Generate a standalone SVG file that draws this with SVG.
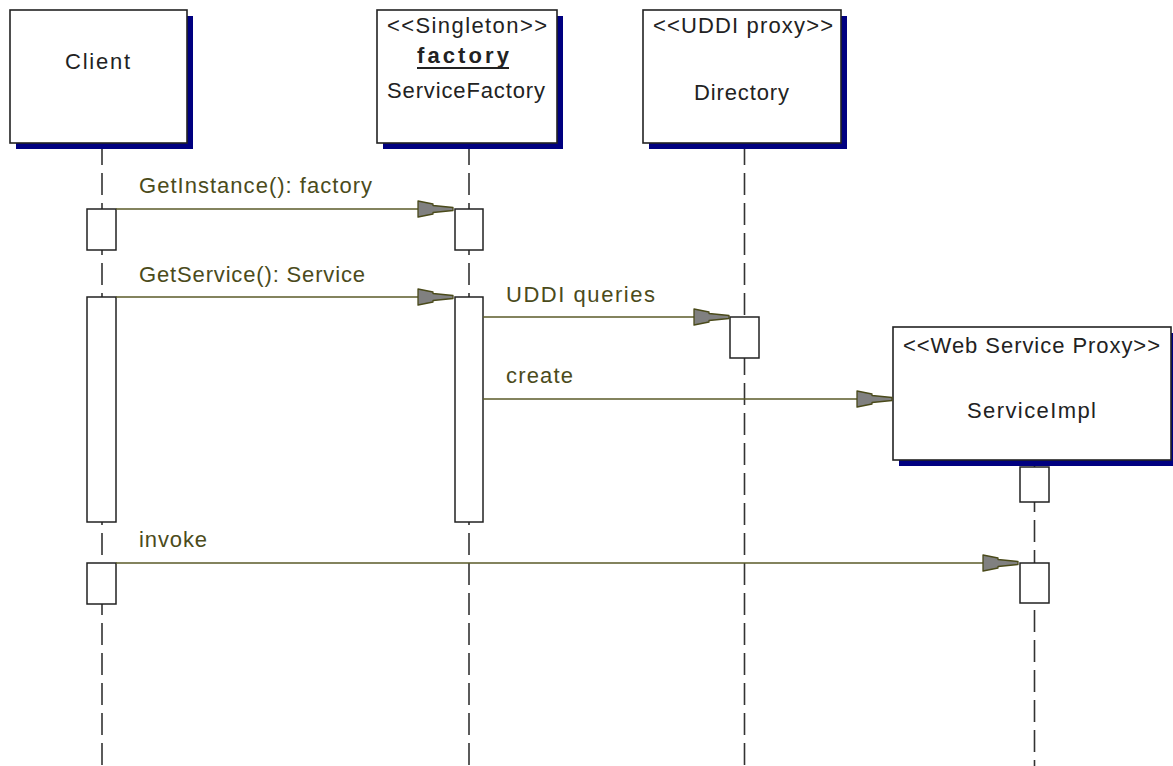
<svg xmlns="http://www.w3.org/2000/svg" width="1173" height="766" viewBox="0 0 1173 766">
<style>
.shadow{fill:#000080}
.box{fill:#ffffff;stroke:#222222;stroke-width:1.6}
.act{fill:#ffffff;stroke:#222222;stroke-width:1.5}
.life{stroke:#333333;stroke-width:1.6;stroke-dasharray:22 8;fill:none}
.nt{font-family:"Liberation Sans",Arial,sans-serif;font-size:22px;fill:#222222}
.mt{font-family:"Liberation Sans",Arial,sans-serif;font-size:22px;fill:#4b4b1b}
.msg{stroke:#5a5a28;stroke-width:1.6;fill:none;marker-end:url(#arr)}
</style>
<defs>
<marker id="arr" viewBox="-37 -10 39 20" refX="0" refY="0" markerWidth="39" markerHeight="20" markerUnits="userSpaceOnUse" orient="auto">
<path d="M-35,-8 L-20,-5 L-20,-3.5 L0,-1.5 L0,1.5 L-20,3.5 L-20,5 L-35,8 Z" fill="#808080" stroke="#4a4a1a" stroke-width="1.3" stroke-linejoin="round"/>
</marker>
</defs>
<rect width="1173" height="766" fill="#ffffff"/>

<g id="client">
<line class="life" x1="102" y1="143" x2="102" y2="766"/>
<rect class="shadow" x="16" y="16" width="177" height="133"/>
<rect class="box" x="10" y="10" width="177" height="133"/>
<text class="nt" x="65" y="69" textLength="65">Client</text>
<rect class="act" x="87" y="209" width="29" height="41"/>
<rect class="act" x="87" y="297" width="29" height="225"/>
<rect class="act" x="87" y="563" width="29" height="41"/>
</g>

<g id="servicefactory">
<line class="life" x1="469" y1="143" x2="469" y2="766"/>
<rect class="shadow" x="383" y="16" width="180" height="133"/>
<rect class="box" x="377" y="10" width="180" height="133"/>
<text class="nt" x="387" y="33" textLength="160">&lt;&lt;Singleton&gt;&gt;</text>
<text class="nt" x="417" y="63" textLength="92" font-weight="bold">factory</text>
<line x1="417" y1="68" x2="509" y2="68" stroke="#222222" stroke-width="2"/>
<text class="nt" x="387" y="98" textLength="158">ServiceFactory</text>
<rect class="act" x="455" y="209" width="28" height="41"/>
<rect class="act" x="455" y="297" width="28" height="225"/>
</g>

<g id="directory">
<line class="life" x1="744.5" y1="143" x2="744.5" y2="766"/>
<rect class="shadow" x="649" y="16" width="198" height="133"/>
<rect class="box" x="643" y="10" width="198" height="133"/>
<text class="nt" x="653" y="33" textLength="180">&lt;&lt;UDDI proxy&gt;&gt;</text>
<text class="nt" x="694" y="100" textLength="95">Directory</text>
<rect class="act" x="730" y="317" width="29" height="41"/>
</g>

<g id="serviceimpl">
<line class="life" x1="1034.5" y1="460" x2="1034.5" y2="766"/>
<rect class="shadow" x="899" y="333" width="280" height="133"/>
<rect class="box" x="893" y="327" width="278" height="133"/>
<text class="nt" x="903" y="353" textLength="257">&lt;&lt;Web Service Proxy&gt;&gt;</text>
<text class="nt" x="967" y="418" textLength="129">ServiceImpl</text>
<rect class="act" x="1020" y="467" width="29" height="35"/>
<rect class="act" x="1020" y="563" width="29" height="40"/>
</g>

<g id="connectors">
<line class="msg" x1="116" y1="209" x2="453" y2="209"/>
<text class="mt" x="139" y="193" textLength="233">GetInstance(): factory</text>
<line class="msg" x1="116" y1="297" x2="453" y2="297"/>
<text class="mt" x="139" y="282" textLength="226">GetService(): Service</text>
<line class="msg" x1="483" y1="317" x2="729" y2="317"/>
<text class="mt" x="506" y="302" textLength="149">UDDI queries</text>
<line class="msg" x1="483" y1="399" x2="892" y2="399"/>
<text class="mt" x="506" y="383" textLength="67">create</text>
<line class="msg" x1="116" y1="563" x2="1018" y2="563"/>
<text class="mt" x="139" y="547" textLength="68">invoke</text>
</g>
</svg>
